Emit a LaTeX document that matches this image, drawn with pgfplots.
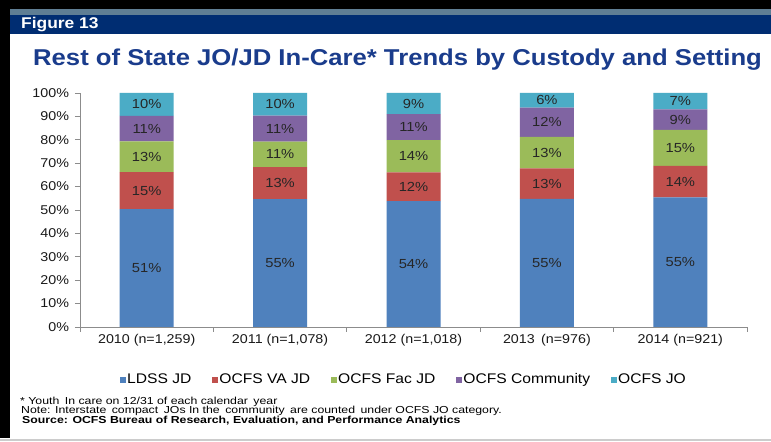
\documentclass[border=0pt]{standalone}
\usepackage{pgfplots}
\pgfplotsset{compat=1.18}
\usepackage{fontspec}
\setmainfont{Liberation Sans}[FakeStretch=1.12]
\definecolor{cBlue}{HTML}{4F81BD}
\definecolor{cRed}{HTML}{C0504D}
\definecolor{cGreen}{HTML}{9BBB59}
\definecolor{cPurple}{HTML}{8064A2}
\definecolor{cAqua}{HTML}{4BACC6}
\definecolor{navy}{HTML}{002D72}
\definecolor{strip}{HTML}{5F7E94}
\definecolor{titleblue}{HTML}{1A3C8C}
\definecolor{axgray}{HTML}{8C8C8C}
\pgfplotstableread{
x  ldss  va    fac   com   jo
0  50.4  15.8  13.1  10.9  9.8
1  54.6  13.7  10.9  11.1  9.7
2  53.8  12.3  13.8  11.1  9.0
3  54.7  13.1  13.5  12.4  6.3
4  55.4  13.5  15.3  8.8   7.0
}\stackdata
\pgfplotstableread{
x  y      l
0  25.2   51\%
0  58.3   15\%
0  72.75  13\%
0  84.75  11\%
0  95.1   10\%
1  27.3   55\%
1  61.45  13\%
1  73.75  11\%
1  84.75  11\%
1  95.15  10\%
2  26.9   54\%
2  59.95  12\%
2  73.0   14\%
2  85.45  11\%
2  95.5   9\%
3  27.35  55\%
3  61.25  13\%
3  74.55  13\%
3  87.5   12\%
3  96.85  6\%
4  27.7   55\%
4  62.15  14\%
4  76.55  15\%
4  88.6   9\%
4  96.5   7\%
}\labeldata
\newcommand{\fs}[1]{\fontsize{#1}{#1}\selectfont}
\begin{document}
\begin{tikzpicture}
\useasboundingbox (0,0) rectangle (771bp,442bp);
\fill[white] (0,0) rectangle (771bp,442bp);
% frame decorations
\fill[black] (0,442bp) rectangle (771bp,433bp);
\fill[black] (0,442bp) rectangle (10bp,4bp);
\fill[strip] (10bp,433bp) rectangle (771bp,427bp);
\fill[navy] (10bp,427bp) rectangle (771bp,408bp);
\draw[gray!40, line width=1.2bp] (0,2bp) -- (771bp,2bp);
\node[anchor=west, text=white, font=\bfseries\fs{15.6}, inner sep=0pt] at (21bp,417bp) {Figure 13};
\node[anchor=west, text=titleblue, font=\bfseries\fs{23}, inner sep=0pt] at (33bp,382bp) {Rest of State JO/JD In-Care* Trends by Custody and Setting};
\begin{axis}[
  at={(80bp,115bp)}, anchor=south west,
  scale only axis, width=667bp, height=234bp,
  xmin=-0.5, xmax=4.5, ymin=0, ymax=100,
  ybar stacked, bar width=54bp,
  axis x line*=bottom, axis y line*=left,
  axis line style={draw=axgray, line width=0.8bp},
  tick style={draw=axgray, line width=0.8bp},
  tick align=outside, major tick length=5bp,
  /pgf/number format/assume math mode=true,
  ytick={0,10,...,100},
  yticklabel={\pgfmathprintnumber{\tick}\%},
  yticklabel style={xshift=-2.5bp},
  xtick={-0.5,0.5,...,4.5}, xticklabels={},
  extra x ticks={0,1,2,3,4},
  extra x tick labels={{2010 (n=1,259)},{2011 (n=1,078)},{2012 (n=1,018)},{2013\enspace(n=976)},{2014 (n=921)}},
  extra x tick style={major tick length=0pt, xticklabel style={yshift=-4bp}},
  ticklabel style={font=\fs{12.8}, text=black!90},
  legend style={at={(0.485,-0.2237)}, anchor=center, draw=none, fill=none,
    legend columns=5, font=\fs{14},
    /tikz/every odd column/.append style={column sep=0bp},
    /tikz/every even column/.append style={column sep=19bp},
    nodes={inner xsep=1.5bp}},
  legend image code/.code={\fill[#1] (0bp,-3.5bp) rectangle (6bp,2.5bp);},
]
\addplot[fill=cBlue, draw=none] table[x=x, y=ldss] {\stackdata};
\addplot[fill=cRed, draw=none] table[x=x, y=va] {\stackdata};
\addplot[fill=cGreen, draw=none] table[x=x, y=fac] {\stackdata};
\addplot[fill=cPurple, draw=none] table[x=x, y=com] {\stackdata};
\addplot[fill=cAqua, draw=none] table[x=x, y=jo] {\stackdata};
\legend{LDSS JD, OCFS VA JD, OCFS Fac JD, OCFS Community, OCFS JO}
\end{axis}
\begin{axis}[
  at={(80bp,115bp)}, anchor=south west,
  scale only axis, width=667bp, height=234bp,
  xmin=-0.5, xmax=4.5, ymin=0, ymax=100,
  hide axis,
]
\addplot[draw=none, mark=none, nodes near coords, point meta=explicit symbolic,
  nodes near coords align=center,
  every node near coord/.append style={font=\fs{13.2}, text=black!85, anchor=center}]
  table[x=x, y=y, meta=l] {\labeldata};
\end{axis}
\node[anchor=west, inner sep=0pt, font=\fs{10.2}] at (20bp,40bp) {\scalebox{1.08}[1]{* Youth\enspace In care on 12/31 of each calendar\enspace year}};
\node[anchor=west, inner sep=0pt, font=\fs{10.2}] at (21bp,31bp) {\scalebox{1.08}[1]{Note: Interstate\enspace compact\enspace JOs In the\enspace community\enspace are counted\enspace under OCFS JO category.}};
\node[anchor=west, inner sep=0pt, font=\bfseries\fs{10.2}] at (22bp,21bp) {\scalebox{1.08}[1]{Source: OCFS Bureau of Research, Evaluation, and Performance Analytics}};
\end{tikzpicture}
\end{document}
